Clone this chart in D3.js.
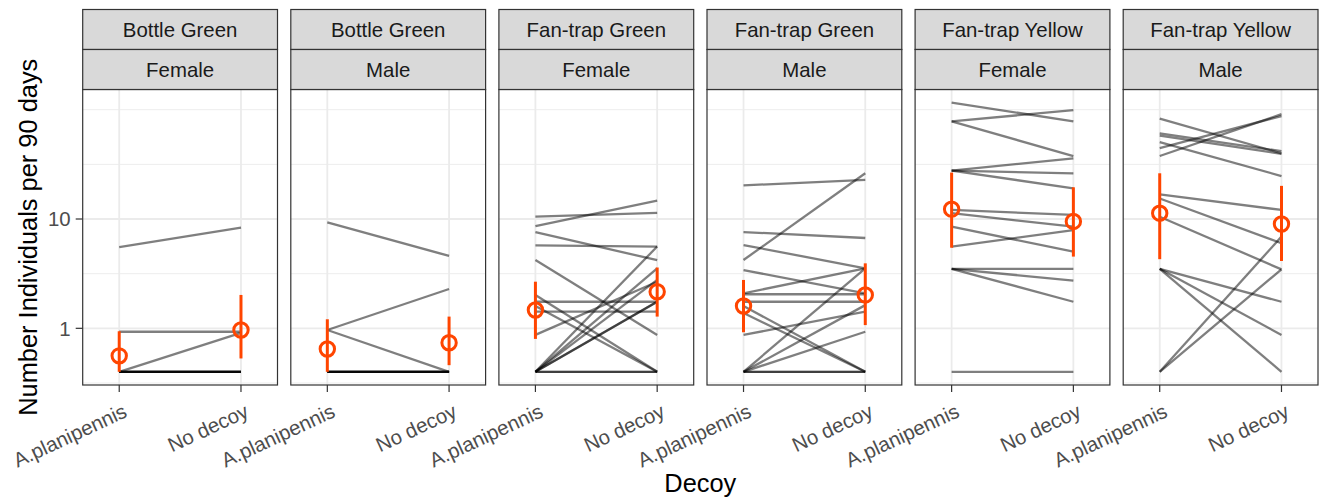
<!DOCTYPE html>
<html>
<head>
<meta charset="utf-8">
<script src="https://cdn.jsdelivr.net/npm/d3@7"></script>
<style>
  html, body { margin: 0; padding: 0; background: #fff; }
  svg { display: block; font-family: "Liberation Sans", Arial, Helvetica, sans-serif; }
</style>
</head>
<body>
<svg id="chart" width="1324" height="499"></svg>
<script>
// ---------- data ----------
const trapTypes = ["Bottle Green", "Bottle Green", "Fan-trap Green", "Fan-trap Green", "Fan-trap Yellow", "Fan-trap Yellow"];
const sexes = ["Female", "Male", "Female", "Male", "Female", "Male"];
const decoys = ["A.planipennis", "No decoy"];
const yTicks = [1, 10];
const yMinor = [0.316, 3.16, 31.6, 100];

// paired trap values per panel: [A.planipennis, No decoy]
const pairsBGF = [[5.54, 8.32], [0.93, 0.93], [0.4, 0.91], [0.4, 0.4], [0.4, 0.4], [0.4, 0.4], [0.4, 0.4], [0.4, 0.4]];
const pairsBGM = [[9.33, 4.59], [0.965, 2.29], [0.965, 0.4], [0.4, 0.4], [0.4, 0.4], [0.4, 0.4], [0.4, 0.4], [0.4, 0.4]];
const pairsFGF = [[10.5, 11.4], [8.6, 14.7], [7.6, 4.2], [5.74, 5.6], [4.22, 0.87], [2.02, 0.4], [1.6, 0.4],
                  [1.75, 1.75], [1.42, 1.42], [0.87, 2.67], [0.4, 5.6], [0.4, 3.54], [0.4, 2.77], [0.4, 1.75],
                  [0.4, 1.75], [0.4, 0.4], [0.4, 0.4]];
const pairsFGM = [[20.3, 22.8], [4.22, 26.2], [7.6, 6.7], [5.78, 3.54], [3.41, 2.09], [2.09, 3.54], [2.05, 2.05],
                  [1.75, 1.75], [1.6, 0.4], [1.38, 0.4], [0.87, 1.42], [0.4, 3.54], [0.4, 1.63], [0.4, 0.93],
                  [0.4, 0.4], [0.4, 0.4]];
const pairsFYF = [[116, 78.3], [78.3, 99], [78.3, 37.6], [27.7, 35.9], [27.7, 26.2], [27.7, 19.1], [12.1, 10.9],
                  [11.3, 8.5], [8.5, 5.03], [5.6, 7.9], [3.5, 3.5], [3.5, 2.73], [3.5, 1.75], [0.4, 0.4]];
const pairsFYM = [[82.8, 39.9], [60.8, 41.7], [58, 39.5], [50.6, 24.7], [44.4, 87.5], [37.7, 91], [16.8, 12.1],
                  [15.4, 6.0], [10.5, 3.46], [3.5, 1.75], [3.5, 0.87], [3.5, 0.4], [0.4, 6.9], [0.4, 3.46]];
const panelPairs = [pairsBGF, pairsBGM, pairsFGF, pairsFGM, pairsFYF, pairsFYM];

// group means with intervals: [mean, low, high] for A.planipennis and No decoy
const meanA = [[0.56, 0.4, 0.94], [0.647, 0.4, 1.21], [1.47, 0.80, 2.67], [1.6, 0.92, 2.77], [12.3, 5.46, 26.6], [11.3, 4.29, 26.2]];
const meanN = [[0.965, 0.53, 2.02], [0.738, 0.46, 1.28], [2.16, 1.28, 3.6], [2.02, 1.07, 3.93], [9.5, 4.53, 19.5], [9.0, 4.13, 20.1]];

// ---------- layout ----------
const svg = d3.select("#chart");
const panelLeft0 = 82.7, panelStep = 208.1, panelW = 194.8;
const stripTop = 9.5, stripH = 40;
const panelTop = stripTop + 2 * stripH, panelBottom = 385;
const fsText = 20.4, fsTitle = 25.4;

const y = d3.scaleLog().domain([0.303, 153]).range([panelBottom, panelTop]);

const gridCol = "#ebebeb";
const orange = "#ff4500";

panelPairs.forEach((pairs, i) => {
  const x0 = panelLeft0 + i * panelStep;
  const x = d3.scalePoint().domain(decoys).range([x0, x0 + panelW]).padding(0.3);
  const g = svg.append("g");

  g.append("rect").attr("x", x0).attr("y", panelTop).attr("width", panelW).attr("height", panelBottom - panelTop).attr("fill", "#fff");

  g.selectAll(".minor").data(yMinor).join("line")
    .attr("x1", x0).attr("x2", x0 + panelW)
    .attr("y1", d => y(d)).attr("y2", d => y(d))
    .attr("stroke", gridCol).attr("stroke-width", 0.9);
  g.selectAll(".major").data(yTicks).join("line")
    .attr("x1", x0).attr("x2", x0 + panelW)
    .attr("y1", d => y(d)).attr("y2", d => y(d))
    .attr("stroke", gridCol).attr("stroke-width", 1.8);
  g.selectAll(".vgrid").data(decoys).join("line")
    .attr("x1", d => x(d)).attr("x2", d => x(d))
    .attr("y1", panelTop).attr("y2", panelBottom)
    .attr("stroke", gridCol).attr("stroke-width", 1.8);

  g.selectAll(".pair").data(pairs).join("line")
    .attr("x1", x(decoys[0])).attr("x2", x(decoys[1]))
    .attr("y1", d => y(d[0])).attr("y2", d => y(d[1]))
    .attr("stroke", "#000").attr("stroke-opacity", 0.5).attr("stroke-width", 2.3);

  const ms = [meanA[i], meanN[i]];
  ms.forEach((m, k) => {
    const cx = x(decoys[k]);
    g.append("line").attr("x1", cx).attr("x2", cx).attr("y1", y(m[1])).attr("y2", y(m[2]))
      .attr("stroke", orange).attr("stroke-width", 3);
    g.append("circle").attr("cx", cx).attr("cy", y(m[0])).attr("r", 7.2)
      .attr("fill", "none").attr("stroke", orange).attr("stroke-width", 3);
  });

  g.append("rect").attr("x", x0).attr("y", panelTop).attr("width", panelW).attr("height", panelBottom - panelTop)
    .attr("fill", "none").attr("stroke", "#333").attr("stroke-width", 1.2);

  [trapTypes[i], sexes[i]].forEach((lab, k) => {
    const sy = stripTop + k * stripH;
    g.append("rect").attr("x", x0).attr("y", sy).attr("width", panelW).attr("height", stripH)
      .attr("fill", "#d9d9d9").attr("stroke", "#333").attr("stroke-width", 1.2);
    g.append("text").attr("x", x0 + panelW / 2).attr("y", sy + stripH / 2 + 7.3)
      .attr("text-anchor", "middle").attr("font-size", fsText).attr("fill", "#1a1a1a").text(lab);
  });

  const xa = g.append("g");
  decoys.forEach(d => {
    xa.append("line").attr("x1", x(d)).attr("x2", x(d)).attr("y1", panelBottom).attr("y2", panelBottom + 7)
      .attr("stroke", "#333").attr("stroke-width", 1.2);
    xa.append("text")
      .attr("transform", `translate(${x(d) + 3},${panelBottom + 18}) rotate(-25)`)
      .attr("text-anchor", "end").attr("dy", "0.71em")
      .attr("font-size", fsText).attr("fill", "#4d4d4d").text(d);
  });
});

const ya = svg.append("g");
yTicks.forEach(t => {
  ya.append("line").attr("x1", panelLeft0 - 7).attr("x2", panelLeft0).attr("y1", y(t)).attr("y2", y(t))
    .attr("stroke", "#333").attr("stroke-width", 1.2);
  ya.append("text").attr("x", panelLeft0 - 12).attr("y", y(t)).attr("dy", "0.36em")
    .attr("text-anchor", "end").attr("font-size", fsText).attr("fill", "#4d4d4d").text(t);
});

svg.append("text").attr("transform", `translate(37,${(panelTop + panelBottom) / 2}) rotate(-90)`)
  .attr("text-anchor", "middle").attr("font-size", fsTitle).attr("fill", "#000").text("Number Individuals per 90 days");
svg.append("text").attr("x", panelLeft0 + (5 * panelStep + panelW) / 2).attr("y", 492)
  .attr("text-anchor", "middle").attr("font-size", fsTitle).attr("fill", "#000").text("Decoy");
</script>
</body>
</html>
